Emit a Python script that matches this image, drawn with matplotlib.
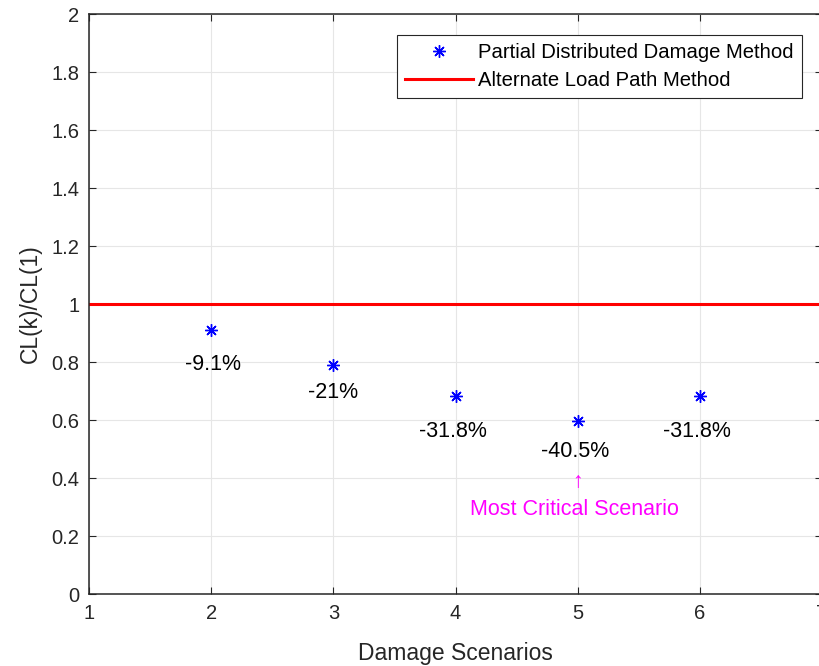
import matplotlib
matplotlib.use("Agg")
import matplotlib.pyplot as plt

plt.rcParams['font.family'] = ['Liberation Sans', 'DejaVu Sans']

scenarios = [2, 3, 4, 5, 6]
ratios = [0.909, 0.790, 0.682, 0.595, 0.682]
pct_labels = ['-9.1%', '-21%', '-31.8%', '-40.5%', '-31.8%']
alp_level = 1.0
critical_idx = 3

# label offsets (pixels) from each marker: (dx, dy)
label_offsets = [(2, -34), (0, -28), (-3, -35), (-3, -30), (-3, -35)]

fig = plt.figure(figsize=(8.19, 6.66), dpi=100)
ax = fig.add_axes([89/819, 72/666, 733/819, 580/666])

ax.plot(scenarios, ratios, linestyle='none', marker=(8, 2, 0), markersize=9,
        markeredgewidth=1.0, color='#0000ff', label='Partial Distributed Damage Method')
ax.axhline(alp_level, color='#ff0000', linewidth=2.2, label='Alternate Load Path Method')

px = 0.72
for x, v, t, (dx, dy) in zip(scenarios, ratios, pct_labels, label_offsets):
    ax.annotate(t, xy=(x, v), xytext=(dx*px, dy*px), textcoords='offset points',
                ha='center', va='center', fontsize=15.5, color='#000000')

cx, cv = scenarios[critical_idx], ratios[critical_idx]
ax.annotate('\u2191', xy=(cx, cv), xytext=(0, -60*px), textcoords='offset points',
            ha='center', va='center', fontsize=15.5, color='#ff00ff')
ax.annotate('Most Critical Scenario', xy=(cx, cv), xytext=(-3*px, -88*px), textcoords='offset points',
            ha='center', va='center', fontsize=15.5, color='#ff00ff')

ax.set_xlim(1, 7)
ax.set_ylim(0, 2)
ax.set_xticks([1, 2, 3, 4, 5, 6, 7])
ax.set_yticks([0, 0.2, 0.4, 0.6, 0.8, 1, 1.2, 1.4, 1.6, 1.8, 2])
ax.set_yticklabels(['0', '0.2', '0.4', '0.6', '0.8', '1', '1.2', '1.4', '1.6', '1.8', '2'])
ax.grid(True, color='#e6e6e6', linewidth=0.8)
ax.set_axisbelow(True)
ax.tick_params(direction='in', top=True, right=True, length=5, width=0.8,
               labelsize=14.5, colors='#262626', pad=7)
for s in ax.spines.values():
    s.set_color('#262626')
    s.set_linewidth(1.1)

ax.set_xlabel('Damage Scenarios', fontsize=16.5, color='#262626', labelpad=14)
ax.set_ylabel('CL(k)/CL(1)', fontsize=16.5, color='#262626', labelpad=7)

leg = ax.legend(loc='upper right', bbox_to_anchor=(713/733, 1 - 21/580), fontsize=14.6,
                frameon=True, fancybox=False, edgecolor='#262626', framealpha=1,
                handlelength=3.35, borderpad=0.4, labelspacing=0.42, handletextpad=0.25,
                borderaxespad=0)
leg.get_frame().set_linewidth(0.8)

fig.savefig('out.png', dpi=100)
